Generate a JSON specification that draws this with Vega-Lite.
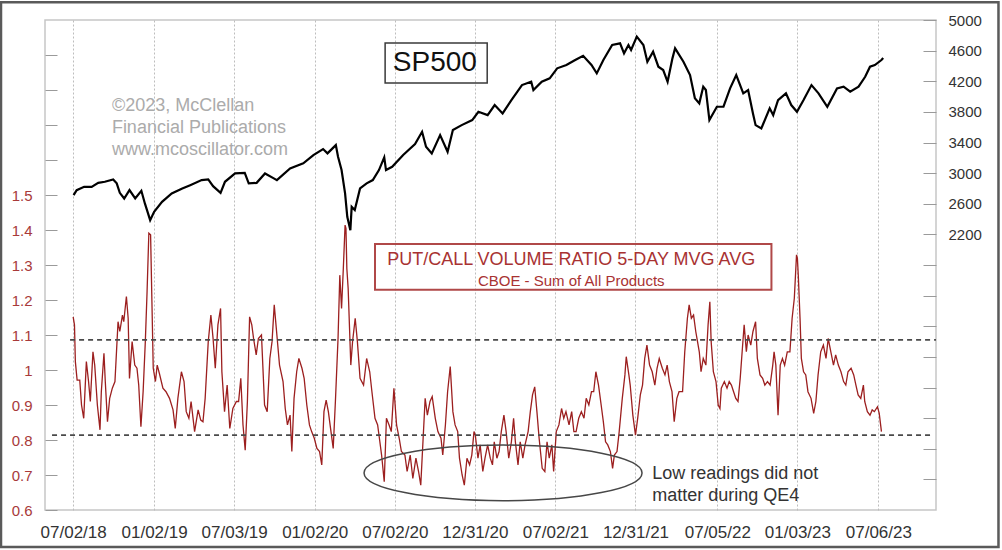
{
  "$schema": "https://vega.github.io/schema/vega-lite/v6.json",
  "width": 891,
  "height": 490,
  "autosize": {"type": "none"},
  "padding": {"left": 45, "top": 20, "right": 66, "bottom": 40},
  "background": "white",
  "config": {
    "font": "Liberation Sans",
    "view": {"stroke": "#c6c6c6", "strokeWidth": 1.5}
  },
  "datasets": {
    "pc": [
      {"d":"2018-07-02","v":1.152},{"d":"2018-07-05","v":1.129},{"d":"2018-07-07","v":1.024},{"d":"2018-07-11","v":0.971},{"d":"2018-07-17","v":0.971},{"d":"2018-07-21","v":0.900},{"d":"2018-07-26","v":0.862},{"d":"2018-08-01","v":1.024},{"d":"2018-08-06","v":0.967},{"d":"2018-08-10","v":0.910},{"d":"2018-08-16","v":1.052},{"d":"2018-08-20","v":1.014},{"d":"2018-08-26","v":0.900},{"d":"2018-09-01","v":0.829},{"d":"2018-09-04","v":0.938},{"d":"2018-09-10","v":1.048},{"d":"2018-09-13","v":0.967},{"d":"2018-09-18","v":0.852},{"d":"2018-09-23","v":0.919},{"d":"2018-09-29","v":0.948},{"d":"2018-10-05","v":0.967},{"d":"2018-10-12","v":1.138},{"d":"2018-10-16","v":1.110},{"d":"2018-10-22","v":1.157},{"d":"2018-10-25","v":1.138},{"d":"2018-10-31","v":1.210},{"d":"2018-11-04","v":1.148},{"d":"2018-11-07","v":0.976},{"d":"2018-11-13","v":1.081},{"d":"2018-11-19","v":1.014},{"d":"2018-11-24","v":1.005},{"d":"2018-11-28","v":0.957},{"d":"2018-12-03","v":0.838},{"d":"2018-12-08","v":0.938},{"d":"2018-12-13","v":1.081},{"d":"2018-12-17","v":1.224},{"d":"2018-12-21","v":1.391},{"d":"2018-12-25","v":1.386},{"d":"2018-12-28","v":1.195},{"d":"2018-12-31","v":1.005},
      {"d":"2019-01-05","v":0.967},{"d":"2019-01-09","v":1.014},{"d":"2019-01-14","v":0.990},{"d":"2019-01-22","v":0.948},{"d":"2019-01-29","v":0.938},{"d":"2019-02-06","v":0.919},{"d":"2019-02-14","v":0.886},{"d":"2019-02-19","v":0.833},{"d":"2019-02-25","v":0.919},{"d":"2019-03-05","v":0.995},{"d":"2019-03-11","v":0.967},{"d":"2019-03-16","v":0.881},{"d":"2019-03-22","v":0.862},{"d":"2019-03-27","v":0.910},{"d":"2019-04-04","v":0.824},{"d":"2019-04-12","v":0.886},{"d":"2019-04-18","v":0.857},{"d":"2019-04-23","v":0.852},{"d":"2019-04-28","v":0.919},{"d":"2019-05-05","v":1.081},{"d":"2019-05-11","v":1.157},{"d":"2019-05-16","v":1.090},{"d":"2019-05-21","v":1.005},{"d":"2019-05-27","v":1.129},{"d":"2019-06-02","v":1.176},{"d":"2019-06-05","v":0.995},{"d":"2019-06-11","v":0.881},{"d":"2019-06-17","v":0.957},{"d":"2019-06-23","v":0.833},{"d":"2019-06-30","v":0.890},{"d":"2019-07-08","v":0.910},{"d":"2019-07-13","v":0.910},{"d":"2019-07-18","v":0.976},{"d":"2019-07-23","v":0.843},{"d":"2019-07-28","v":0.771},{"d":"2019-08-02","v":0.910},{"d":"2019-08-07","v":1.152},{"d":"2019-08-12","v":1.129},{"d":"2019-08-16","v":1.090},{"d":"2019-08-22","v":1.043},{"d":"2019-08-27","v":1.090},{"d":"2019-09-03","v":1.100},{"d":"2019-09-10","v":0.900},{"d":"2019-09-16","v":0.881},{"d":"2019-09-22","v":1.033},{"d":"2019-09-27","v":1.081},
      {"d":"2019-10-02","v":1.186},{"d":"2019-10-08","v":1.100},{"d":"2019-10-14","v":1.014},{"d":"2019-10-22","v":0.967},{"d":"2019-10-27","v":0.890},{"d":"2019-11-01","v":0.843},{"d":"2019-11-07","v":0.871},{"d":"2019-11-11","v":0.767},{"d":"2019-11-16","v":0.919},{"d":"2019-11-22","v":0.995},{"d":"2019-11-27","v":1.033},{"d":"2019-12-04","v":1.005},{"d":"2019-12-09","v":0.976},{"d":"2019-12-15","v":0.900},{"d":"2019-12-21","v":0.843},{"d":"2019-12-26","v":0.824},{"d":"2020-01-01","v":0.805},{"d":"2020-01-07","v":0.776},{"d":"2020-01-13","v":0.767},{"d":"2020-01-18","v":0.729},{"d":"2020-01-23","v":0.881},{"d":"2020-01-28","v":0.914},{"d":"2020-02-02","v":0.881},{"d":"2020-02-07","v":0.833},{"d":"2020-02-13","v":0.776},{"d":"2020-02-18","v":0.910},{"d":"2020-02-24","v":1.090},{"d":"2020-02-28","v":1.271},{"d":"2020-03-03","v":1.176},{"d":"2020-03-07","v":1.290},{"d":"2020-03-11","v":1.414},{"d":"2020-03-13","v":1.405},{"d":"2020-03-15","v":1.290},{"d":"2020-03-18","v":1.233},{"d":"2020-03-24","v":1.014},{"d":"2020-03-28","v":1.081},{"d":"2020-04-03","v":1.148},{"d":"2020-04-08","v":1.081},{"d":"2020-04-14","v":0.976},{"d":"2020-04-22","v":0.957},{"d":"2020-04-29","v":1.033},{"d":"2020-05-06","v":0.995},{"d":"2020-05-11","v":0.938},{"d":"2020-05-18","v":0.862},{"d":"2020-05-24","v":0.843},{"d":"2020-05-28","v":0.805},{"d":"2020-06-02","v":0.757},{"d":"2020-06-08","v":0.681},{"d":"2020-06-13","v":0.862},{"d":"2020-06-19","v":0.843},{"d":"2020-06-24","v":0.824},{"d":"2020-06-30","v":0.948},{"d":"2020-07-06","v":0.843},{"d":"2020-07-12","v":0.805},{"d":"2020-07-17","v":0.767},{"d":"2020-07-25","v":0.757},{"d":"2020-07-30","v":0.710},{"d":"2020-08-06","v":0.757},{"d":"2020-08-12","v":0.690},{"d":"2020-08-19","v":0.748},{"d":"2020-08-25","v":0.710},{"d":"2020-08-30","v":0.671},{"d":"2020-09-04","v":0.795},{"d":"2020-09-09","v":0.919},{"d":"2020-09-14","v":0.871},{"d":"2020-09-20","v":0.910},{"d":"2020-09-25","v":0.924},{"d":"2020-10-02","v":0.862},{"d":"2020-10-08","v":0.824},{"d":"2020-10-15","v":0.805},{"d":"2020-10-19","v":0.757},{"d":"2020-10-25","v":0.843},{"d":"2020-10-30","v":0.938},{"d":"2020-11-05","v":1.010},{"d":"2020-11-11","v":0.881},{"d":"2020-11-16","v":0.843},{"d":"2020-11-22","v":0.824},{"d":"2020-11-26","v":0.748},{"d":"2020-12-02","v":0.700},{"d":"2020-12-07","v":0.671},{"d":"2020-12-13","v":0.748},{"d":"2020-12-19","v":0.729},{"d":"2020-12-24","v":0.757},{"d":"2020-12-29","v":0.824},
      {"d":"2021-01-01","v":0.814},{"d":"2021-01-07","v":0.748},{"d":"2021-01-12","v":0.786},{"d":"2021-01-18","v":0.710},{"d":"2021-01-23","v":0.748},{"d":"2021-01-29","v":0.786},{"d":"2021-02-04","v":0.748},{"d":"2021-02-09","v":0.729},{"d":"2021-02-13","v":0.795},{"d":"2021-02-19","v":0.748},{"d":"2021-02-24","v":0.767},{"d":"2021-03-01","v":0.824},{"d":"2021-03-07","v":0.871},{"d":"2021-03-12","v":0.824},{"d":"2021-03-18","v":0.748},{"d":"2021-03-24","v":0.795},{"d":"2021-03-29","v":0.862},{"d":"2021-04-02","v":0.795},{"d":"2021-04-08","v":0.729},{"d":"2021-04-13","v":0.795},{"d":"2021-04-19","v":0.748},{"d":"2021-04-24","v":0.786},{"d":"2021-05-01","v":0.824},{"d":"2021-05-06","v":0.881},{"d":"2021-05-11","v":0.929},{"d":"2021-05-16","v":0.952},{"d":"2021-05-21","v":0.881},{"d":"2021-05-26","v":0.805},{"d":"2021-06-02","v":0.719},{"d":"2021-06-08","v":0.710},{"d":"2021-06-13","v":0.795},{"d":"2021-06-18","v":0.748},{"d":"2021-06-24","v":0.786},{"d":"2021-06-28","v":0.710},{"d":"2021-07-04","v":0.824},{"d":"2021-07-10","v":0.843},{"d":"2021-07-16","v":0.890},{"d":"2021-07-21","v":0.862},{"d":"2021-07-26","v":0.881},{"d":"2021-08-02","v":0.843},{"d":"2021-08-08","v":0.881},{"d":"2021-08-13","v":0.824},{"d":"2021-08-18","v":0.824},{"d":"2021-08-24","v":0.862},{"d":"2021-08-30","v":0.881},{"d":"2021-09-05","v":0.862},{"d":"2021-09-10","v":0.919},{"d":"2021-09-16","v":0.900},{"d":"2021-09-22","v":0.938},{"d":"2021-09-27","v":0.938},{"d":"2021-10-02","v":0.995},{"d":"2021-10-08","v":0.957},{"d":"2021-10-14","v":0.900},{"d":"2021-10-19","v":0.852},{"d":"2021-10-24","v":0.795},{"d":"2021-10-29","v":0.786},{"d":"2021-11-04","v":0.767},{"d":"2021-11-09","v":0.719},{"d":"2021-11-13","v":0.757},{"d":"2021-11-19","v":0.767},{"d":"2021-11-24","v":0.824},{"d":"2021-12-01","v":0.919},{"d":"2021-12-07","v":0.986},{"d":"2021-12-10","v":1.038},{"d":"2021-12-16","v":0.986},{"d":"2021-12-19","v":0.957},{"d":"2021-12-25","v":0.871},{"d":"2021-12-31","v":0.814},
      {"d":"2022-01-05","v":0.862},{"d":"2022-01-11","v":0.929},{"d":"2022-01-16","v":0.957},{"d":"2022-01-21","v":1.033},{"d":"2022-01-26","v":1.071},{"d":"2022-02-01","v":1.014},{"d":"2022-02-07","v":0.995},{"d":"2022-02-13","v":0.957},{"d":"2022-02-18","v":1.005},{"d":"2022-02-23","v":1.033},{"d":"2022-03-02","v":1.005},{"d":"2022-03-08","v":0.986},{"d":"2022-03-13","v":1.014},{"d":"2022-03-18","v":0.967},{"d":"2022-03-24","v":0.938},{"d":"2022-03-29","v":0.852},{"d":"2022-04-04","v":0.919},{"d":"2022-04-09","v":0.938},{"d":"2022-04-17","v":0.938},{"d":"2022-04-22","v":1.052},{"d":"2022-04-28","v":1.148},{"d":"2022-05-02","v":1.186},{"d":"2022-05-07","v":1.148},{"d":"2022-05-12","v":1.157},{"d":"2022-05-17","v":1.110},{"d":"2022-05-21","v":1.081},{"d":"2022-05-25","v":1.052},{"d":"2022-05-29","v":0.995},{"d":"2022-06-03","v":1.033},{"d":"2022-06-09","v":1.014},{"d":"2022-06-14","v":1.129},{"d":"2022-06-18","v":1.195},{"d":"2022-06-21","v":1.081},{"d":"2022-06-26","v":0.995},{"d":"2022-07-02","v":0.967},{"d":"2022-07-07","v":0.900},{"d":"2022-07-11","v":0.890},{"d":"2022-07-14","v":0.948},{"d":"2022-07-21","v":0.967},{"d":"2022-07-27","v":0.948},{"d":"2022-08-01","v":0.967},{"d":"2022-08-06","v":0.957},{"d":"2022-08-11","v":0.938},{"d":"2022-08-16","v":0.919},{"d":"2022-08-21","v":0.910},{"d":"2022-08-26","v":0.976},{"d":"2022-08-31","v":1.062},{"d":"2022-09-04","v":1.129},{"d":"2022-09-09","v":1.052},{"d":"2022-09-13","v":1.100},{"d":"2022-09-19","v":1.071},{"d":"2022-09-24","v":1.110},{"d":"2022-09-30","v":1.138},{"d":"2022-10-04","v":1.033},{"d":"2022-10-10","v":0.986},{"d":"2022-10-16","v":0.976},{"d":"2022-10-21","v":0.957},{"d":"2022-10-27","v":0.967},{"d":"2022-11-02","v":0.957},{"d":"2022-11-08","v":1.014},{"d":"2022-11-11","v":1.052},{"d":"2022-11-15","v":1.014},{"d":"2022-11-20","v":0.871},{"d":"2022-11-25","v":1.014},{"d":"2022-11-30","v":1.033},{"d":"2022-12-05","v":1.014},{"d":"2022-12-11","v":1.052},{"d":"2022-12-17","v":1.052},{"d":"2022-12-22","v":1.148},{"d":"2022-12-27","v":1.205},
      {"d":"2023-01-01","v":1.329},{"d":"2023-01-03","v":1.319},{"d":"2023-01-05","v":1.271},{"d":"2023-01-09","v":1.148},{"d":"2023-01-12","v":1.033},{"d":"2023-01-17","v":0.995},{"d":"2023-01-22","v":0.986},{"d":"2023-01-27","v":0.938},{"d":"2023-02-03","v":0.919},{"d":"2023-02-09","v":0.876},{"d":"2023-02-14","v":0.910},{"d":"2023-02-19","v":0.986},{"d":"2023-02-25","v":1.052},{"d":"2023-03-03","v":1.071},{"d":"2023-03-09","v":1.033},{"d":"2023-03-14","v":1.090},{"d":"2023-03-20","v":1.052},{"d":"2023-03-26","v":1.014},{"d":"2023-03-31","v":1.043},{"d":"2023-04-06","v":1.014},{"d":"2023-04-12","v":0.995},{"d":"2023-04-18","v":0.967},{"d":"2023-04-23","v":0.957},{"d":"2023-04-28","v":0.995},{"d":"2023-05-05","v":1.005},{"d":"2023-05-11","v":0.986},{"d":"2023-05-16","v":0.957},{"d":"2023-05-21","v":0.929},{"d":"2023-05-27","v":0.919},{"d":"2023-06-02","v":0.957},{"d":"2023-06-05","v":0.910},{"d":"2023-06-11","v":0.881},{"d":"2023-06-17","v":0.871},{"d":"2023-06-22","v":0.886},{"d":"2023-06-27","v":0.881},{"d":"2023-07-04","v":0.895},{"d":"2023-07-08","v":0.876},{"d":"2023-07-13","v":0.824}
    ],
    "sp": [
      {"d":"2018-07-03","v":2713},{"d":"2018-07-10","v":2778},{"d":"2018-07-27","v":2821},{"d":"2018-08-13","v":2821},{"d":"2018-08-28","v":2873},{"d":"2018-09-12","v":2887},{"d":"2018-10-01","v":2918},{"d":"2018-10-09","v":2866},{"d":"2018-10-16","v":2743},{"d":"2018-10-26","v":2669},{"d":"2018-11-07","v":2778},{"d":"2018-11-20","v":2669},{"d":"2018-12-04","v":2769},{"d":"2018-12-12","v":2604},{"d":"2018-12-24","v":2386},
      {"d":"2019-01-02","v":2495},{"d":"2019-01-20","v":2625},{"d":"2019-02-11","v":2735},{"d":"2019-03-07","v":2800},{"d":"2019-03-25","v":2843},{"d":"2019-04-20","v":2909},{"d":"2019-05-05","v":2918},{"d":"2019-05-16","v":2830},{"d":"2019-06-02","v":2743},{"d":"2019-06-12","v":2887},{"d":"2019-07-05","v":2996},{"d":"2019-07-27","v":3004},{"d":"2019-08-05","v":2866},{"d":"2019-08-23","v":2873},{"d":"2019-09-11","v":2996},{"d":"2019-10-01","v":2931},{"d":"2019-10-08","v":2909},{"d":"2019-11-07","v":3062},{"d":"2019-12-07","v":3127},{"d":"2019-12-30","v":3236},
      {"d":"2020-01-21","v":3314},{"d":"2020-01-31","v":3258},{"d":"2020-02-19","v":3366},{"d":"2020-02-24","v":3213},{"d":"2020-03-03","v":3040},{"d":"2020-03-11","v":2735},{"d":"2020-03-16","v":2429},{"d":"2020-03-23","v":2255},{"d":"2020-03-26","v":2560},{"d":"2020-04-02","v":2517},{"d":"2020-04-14","v":2800},{"d":"2020-04-29","v":2866},{"d":"2020-05-13","v":2909},{"d":"2020-05-27","v":3040},{"d":"2020-06-08","v":3205},{"d":"2020-06-12","v":3040},{"d":"2020-06-26","v":3083},{"d":"2020-07-21","v":3236},{"d":"2020-08-17","v":3379},{"d":"2020-09-02","v":3540},{"d":"2020-09-11","v":3344},{"d":"2020-09-24","v":3258},{"d":"2020-10-13","v":3497},{"d":"2020-10-30","v":3279},{"d":"2020-11-11","v":3562},{"d":"2020-12-01","v":3627},{"d":"2020-12-25","v":3693},
      {"d":"2021-01-08","v":3801},{"d":"2021-01-29","v":3758},{"d":"2021-02-14","v":3889},{"d":"2021-03-04","v":3780},{"d":"2021-03-24","v":3954},{"d":"2021-04-17","v":4150},{"d":"2021-05-08","v":4193},{"d":"2021-05-13","v":4085},{"d":"2021-06-01","v":4193},{"d":"2021-06-19","v":4238},{"d":"2021-07-06","v":4369},{"d":"2021-07-27","v":4412},{"d":"2021-08-16","v":4477},{"d":"2021-09-03","v":4533},{"d":"2021-09-22","v":4412},{"d":"2021-10-04","v":4303},{"d":"2021-10-19","v":4477},{"d":"2021-11-08","v":4673},{"d":"2021-11-26","v":4695},{"d":"2021-12-05","v":4565},{"d":"2021-12-15","v":4673},{"d":"2021-12-21","v":4608},
      {"d":"2022-01-03","v":4782},{"d":"2022-01-18","v":4673},{"d":"2022-01-27","v":4455},{"d":"2022-02-09","v":4586},{"d":"2022-02-21","v":4390},{"d":"2022-03-04","v":4347},{"d":"2022-03-14","v":4193},{"d":"2022-03-25","v":4499},{"d":"2022-03-31","v":4630},{"d":"2022-04-19","v":4455},{"d":"2022-05-04","v":4281},{"d":"2022-05-15","v":3977},{"d":"2022-05-25","v":3911},{"d":"2022-06-03","v":4129},{"d":"2022-06-09","v":4085},{"d":"2022-06-17","v":3693},{"d":"2022-07-04","v":3867},{"d":"2022-07-19","v":3867},{"d":"2022-08-03","v":4107},{"d":"2022-08-17","v":4281},{"d":"2022-09-02","v":4042},{"d":"2022-09-13","v":4085},{"d":"2022-09-24","v":3780},{"d":"2022-09-30","v":3627},{"d":"2022-10-13","v":3584},{"d":"2022-11-01","v":3846},{"d":"2022-11-09","v":3758},{"d":"2022-11-20","v":3954},{"d":"2022-12-08","v":4042},{"d":"2022-12-20","v":3889},
      {"d":"2023-01-02","v":3801},{"d":"2023-01-17","v":3954},{"d":"2023-02-04","v":4150},{"d":"2023-02-20","v":4042},{"d":"2023-03-12","v":3867},{"d":"2023-04-03","v":4107},{"d":"2023-04-18","v":4129},{"d":"2023-05-03","v":4063},{"d":"2023-05-22","v":4129},{"d":"2023-06-06","v":4259},{"d":"2023-06-17","v":4390},{"d":"2023-06-28","v":4412},{"d":"2023-07-13","v":4477},{"d":"2023-07-17","v":4503}
    ]
  },
  "layer": [
    {
      "data": {"name": "pc"},
      "mark": {"type": "line", "color": "#9c1f1f", "strokeWidth": 1.3},
      "encoding": {
        "x": {
          "field": "d", "type": "temporal",
          "scale": {"type": "utc", "nice": false,
            "domain": [{"year": 2018, "month": 4, "date": 29, "utc": true}, {"year": 2023, "month": 11, "date": 14, "utc": true}]},
          "axis": {
            "title": null, "format": "%m/%d/%y",
            "values": [
              {"year": 2018, "month": 7, "date": 2, "utc": true},
              {"year": 2019, "month": 1, "date": 2, "utc": true},
              {"year": 2019, "month": 7, "date": 3, "utc": true},
              {"year": 2020, "month": 1, "date": 2, "utc": true},
              {"year": 2020, "month": 7, "date": 2, "utc": true},
              {"year": 2020, "month": 12, "date": 31, "utc": true},
              {"year": 2021, "month": 7, "date": 2, "utc": true},
              {"year": 2021, "month": 12, "date": 31, "utc": true},
              {"year": 2022, "month": 7, "date": 5, "utc": true},
              {"year": 2023, "month": 1, "date": 3, "utc": true},
              {"year": 2023, "month": 7, "date": 6, "utc": true}
            ],
            "domain": false, "ticks": false,
            "grid": true, "gridColor": "#bdbdbd", "gridDash": [2, 2], "gridWidth": 1,
            "labelFont": "Liberation Sans", "labelFontSize": 17, "labelColor": "#333333",
            "labelPadding": 14, "labelOverlap": false, "labelFlush": false
          }
        },
        "y": {
          "field": "v", "type": "quantitative",
          "scale": {"domain": [0.6, 2.0], "nice": false, "zero": false},
          "axis": {
            "title": null, "orient": "left", "grid": false, "domain": false,
            "values": [0.6, 0.7, 0.8, 0.9, 1.0, 1.1, 1.2, 1.3, 1.4, 1.5, 1.6, 1.7, 1.8, 1.9],
            "labelExpr": "datum.value > 1.55 ? '' : format(datum.value, '~g')",
            "tickSize": -12, "tickColor": "#9a9a9a", "tickWidth": 1,
            "labelPadding": 25, "labelFont": "Liberation Sans", "labelFontSize": 15,
            "labelColor": "#a83a3a"
          }
        }
      }
    },
    {
      "data": {"name": "sp"},
      "mark": {"type": "line", "color": "#000000", "strokeWidth": 2.2},
      "encoding": {
        "x": {"field": "d", "type": "temporal"},
        "y": {
          "field": "v", "type": "quantitative",
          "scale": {"domain": [-1400, 5000], "nice": false, "zero": false},
          "axis": {
            "title": null, "orient": "right", "grid": false, "domain": false,
            "values": [-1000, -600, -200, 200, 600, 1000, 1400, 1800, 2200, 2600, 3000, 3400, 3800, 4200, 4600, 5000],
            "labelExpr": "datum.value < 2100 ? '' : format(datum.value, 'd')",
            "tickSize": -13, "tickColor": "#9a9a9a", "tickWidth": 1,
            "labelPadding": 25, "labelFont": "Liberation Sans", "labelFontSize": 15,
            "labelColor": "#333333"
          }
        }
      }
    },
    {
      "data": {"values": [{}]},
      "mark": {"type": "rule", "color": "#4a4a4a", "strokeWidth": 1.8, "strokeDash": [5, 4]},
      "encoding": {
        "x": {"datum": {"year": 2018, "month": 6, "date": 25, "utc": true}, "type": "temporal"},
        "x2": {"datum": {"year": 2023, "month": 11, "date": 14, "utc": true}},
        "y": {"datum": 1.086, "type": "quantitative", "axis": null, "scale": {"domain": [0.6, 2.0], "nice": false, "zero": false}}
      }
    },
    {
      "data": {"values": [{}]},
      "mark": {"type": "rule", "color": "#4a4a4a", "strokeWidth": 1.8, "strokeDash": [5, 4]},
      "encoding": {
        "x": {"datum": {"year": 2018, "month": 5, "date": 15, "utc": true}, "type": "temporal"},
        "x2": {"datum": {"year": 2023, "month": 11, "date": 8, "utc": true}},
        "y": {"datum": 0.814, "type": "quantitative", "axis": null, "scale": {"domain": [0.6, 2.0], "nice": false, "zero": false}}
      }
    },
    {
      "data": {"values": [{}]},
      "mark": {"type": "rect", "fillOpacity": 0, "stroke": "#b04848", "strokeWidth": 2},
      "encoding": {
        "x": {"datum": {"year": 2020, "month": 5, "date": 18, "utc": true}, "type": "temporal"},
        "x2": {"datum": {"year": 2022, "month": 11, "date": 5, "utc": true}},
        "y": {"datum": 1.36, "type": "quantitative", "axis": null, "scale": {"domain": [0.6, 2.0], "nice": false, "zero": false}},
        "y2": {"datum": 1.229}
      }
    },
    {
      "data": {"values": [{}]},
      "mark": {"type": "text", "text": "PUT/CALL VOLUME RATIO 5-DAY MVG AVG", "font": "Liberation Sans", "fontSize": 18, "color": "#a83232", "align": "center", "baseline": "middle"},
      "encoding": {
        "x": {"datum": {"year": 2021, "month": 8, "date": 7, "utc": true}, "type": "temporal"},
        "y": {"datum": 1.314, "type": "quantitative", "axis": null, "scale": {"domain": [0.6, 2.0], "nice": false, "zero": false}}
      }
    },
    {
      "data": {"values": [{}]},
      "mark": {"type": "text", "text": "CBOE - Sum of All Products", "font": "Liberation Sans", "fontSize": 15, "color": "#a83232", "align": "center", "baseline": "middle"},
      "encoding": {
        "x": {"datum": {"year": 2021, "month": 8, "date": 7, "utc": true}, "type": "temporal"},
        "y": {"datum": 1.255, "type": "quantitative", "axis": null, "scale": {"domain": [0.6, 2.0], "nice": false, "zero": false}}
      }
    },
    {
      "data": {"values": [{}]},
      "mark": {"type": "rect", "fillOpacity": 0, "stroke": "#3a3a3a", "strokeWidth": 1.5},
      "encoding": {
        "x": {"datum": {"year": 2020, "month": 6, "date": 10, "utc": true}, "type": "temporal"},
        "x2": {"datum": {"year": 2021, "month": 1, "date": 28, "utc": true}},
        "y": {"datum": 1.934, "type": "quantitative", "axis": null, "scale": {"domain": [0.6, 2.0], "nice": false, "zero": false}},
        "y2": {"datum": 1.82}
      }
    },
    {
      "data": {"values": [{}]},
      "mark": {"type": "text", "text": "SP500", "font": "Liberation Sans", "fontSize": 28, "color": "#111111", "align": "center", "baseline": "middle"},
      "encoding": {
        "x": {"datum": {"year": 2020, "month": 10, "date": 1, "utc": true}, "type": "temporal"},
        "y": {"datum": 1.878, "type": "quantitative", "axis": null, "scale": {"domain": [0.6, 2.0], "nice": false, "zero": false}}
      }
    },
    {
      "data": {"values": [{}]},
      "mark": {"type": "text", "text": "©2023, McClellan\nFinancial Publications\nwww.mcoscillator.com", "lineBreak": "\n", "lineHeight": 22, "font": "Liberation Sans", "fontSize": 18, "color": "#ababab", "align": "left", "baseline": "middle"},
      "encoding": {
        "x": {"datum": {"year": 2018, "month": 9, "date": 28, "utc": true}, "type": "temporal"},
        "y": {"datum": 1.755, "type": "quantitative", "axis": null, "scale": {"domain": [0.6, 2.0], "nice": false, "zero": false}}
      }
    },
    {
      "data": {"values": [{}]},
      "mark": {"type": "text", "text": "Low readings did not\nmatter during QE4", "lineBreak": "\n", "lineHeight": 22, "font": "Liberation Sans", "fontSize": 18, "color": "#333333", "align": "left", "baseline": "middle"},
      "encoding": {
        "x": {"datum": {"year": 2022, "month": 2, "date": 7, "utc": true}, "type": "temporal"},
        "y": {"datum": 0.703, "type": "quantitative", "axis": null, "scale": {"domain": [0.6, 2.0], "nice": false, "zero": false}}
      }
    },
    {
      "data": {"values": [{}]},
      "mark": {"type": "rect", "fillOpacity": 0, "stroke": "#5a5a5a", "strokeWidth": 2.5},
      "encoding": {
        "x": {"datum": {"year": 2018, "month": 1, "date": 19, "utc": true}, "type": "temporal"},
        "x2": {"datum": {"year": 2024, "month": 4, "date": 4, "utc": true}},
        "y": {"datum": 2.051, "type": "quantitative", "axis": null, "scale": {"domain": [0.6, 2.0], "nice": false, "zero": false}},
        "y2": {"datum": 0.494}
      }
    },
    {
      "data": {"values": [{}]},
      "mark": {"type": "point", "shape": "M -1 0 A 1 0.2 0 1 1 1 0 A 1 0.2 0 1 1 -1 0 Z", "size": 77284, "filled": false, "stroke": "#474747", "strokeWidth": 1.5, "opacity": 1},
      "encoding": {
        "x": {"datum": {"year": 2021, "month": 3, "date": 5, "utc": true}, "type": "temporal"},
        "y": {"datum": 0.706, "type": "quantitative", "axis": null, "scale": {"domain": [0.6, 2.0], "nice": false, "zero": false}}
      }
    }
  ],
  "resolve": {"scale": {"y": "independent"}}
}
